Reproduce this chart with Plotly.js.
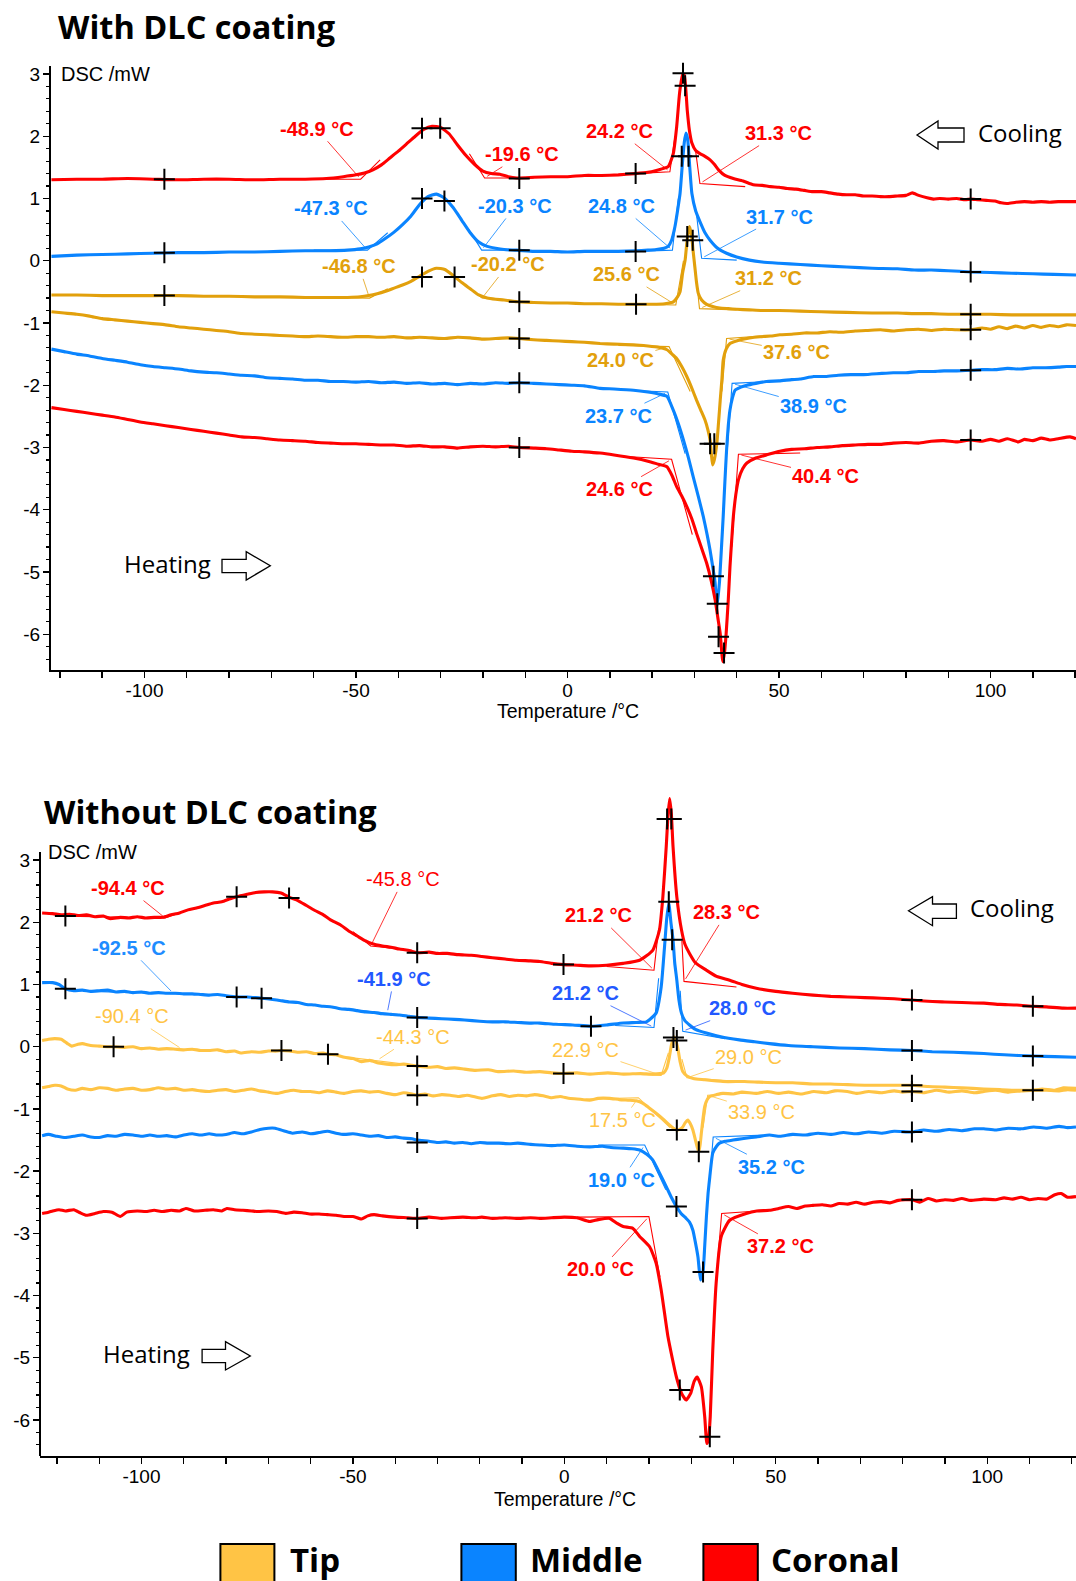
<!DOCTYPE html>
<html><head><meta charset="utf-8">
<script src="https://cdn.plot.ly/plotly-3.0.1.min.js"></script>
<style>html,body{margin:0;padding:0;background:#fff}#chart{width:1076px;height:1581px}</style>
</head><body><div id="chart"></div>
<script>
// ===================== DATA =====================
// Temperature (°C), DSC (mW) pairs
// ---- Top panel: With DLC coating ----
const topCoronalCool = [[-122,1.30],[-116,1.31],[-110,1.31],[-104,1.32],[-98,1.31],[-92,1.30],[-86,1.31],[-80,1.31],[-74,1.30],[-68,1.31],[-62,1.31],[-57,1.32],[-53,1.35],[-50,1.38],[-48,1.41],[-46,1.46],[-44,1.54],[-42,1.65],[-40,1.76],[-38,1.88],[-36,2.00],[-34,2.11],[-32,2.16],[-30,2.14],[-28,2.04],[-26,1.86],[-24,1.69],[-22,1.55],[-20,1.44],[-18,1.40],[-16,1.39],[-14,1.35],[-12,1.33],[-8,1.34],[-4,1.35],[0,1.35],[4,1.37],[8,1.37],[12,1.38],[16,1.40],[19,1.42],[21,1.45],[22.5,1.48],[23.8,1.51],[25.0,1.72],[25.8,2.15],[26.5,2.70],[27.2,2.99],[27.6,2.98],[28.3,2.42],[28.8,2.10],[29.4,1.89],[30.3,1.77],[31.3,1.72],[32.4,1.68],[33.7,1.62],[34.7,1.55],[35.7,1.46],[37.2,1.37],[39.2,1.32],[41.5,1.28],[43.9,1.22],[46,1.21],[48,1.19],[50,1.18],[52,1.16],[54,1.15],[56,1.13],[58,1.11],[60,1.11],[62,1.09],[64,1.07],[66,1.06],[68,1.06],[70,1.04],[72,1.04],[74,1.03],[76,1.03],[78,1.04],[80,1.05],[81.5,1.09],[83,1.05],[85,1.01],[86.5,0.99],[88,1.00],[90,0.99],[92,1.00],[94,0.98],[95.3,0.99],[97,0.98],[99,0.97],[101,0.96],[102.5,0.93],[104,0.92],[106,0.94],[108,0.95],[110,0.94],[112,0.95],[114,0.94],[116,0.95],[118,0.95],[120.2,0.95]];
const topMiddleCool = [[-122,0.07],[-116,0.09],[-110,0.10],[-104,0.11],[-98,0.12],[-92,0.13],[-86,0.13],[-80,0.14],[-74,0.14],[-68,0.15],[-62,0.16],[-56,0.16],[-52,0.17],[-49,0.19],[-47,0.22],[-45,0.27],[-43,0.36],[-41,0.46],[-39,0.58],[-37,0.72],[-35,0.90],[-33,1.03],[-31,1.07],[-29,1.00],[-27,0.85],[-25,0.65],[-23,0.45],[-21,0.30],[-19,0.23],[-17,0.20],[-15,0.18],[-12,0.17],[-8,0.15],[-4,0.15],[0,0.14],[4,0.15],[8,0.15],[12,0.15],[16,0.16],[19,0.17],[21,0.18],[22.8,0.20],[23.8,0.23],[24.6,0.33],[25.4,0.55],[26.0,0.80],[26.6,1.08],[27.2,1.60],[27.6,1.90],[28.0,2.05],[28.4,1.95],[28.9,1.50],[29.4,1.08],[30.3,0.80],[31.3,0.63],[32.5,0.45],[33.7,0.33],[35.5,0.20],[37.6,0.12],[40,0.06],[43,0.01],[46,-0.02],[50,-0.04],[55,-0.06],[60,-0.08],[66,-0.10],[72,-0.12],[78,-0.13],[82,-0.15],[86,-0.15],[90,-0.16],[95.3,-0.18],[100,-0.19],[105,-0.20],[110,-0.21],[115,-0.22],[120.2,-0.23]];
const topTipCool = [[-122,-0.55],[-116,-0.55],[-110,-0.56],[-104,-0.56],[-98,-0.56],[-92,-0.56],[-86,-0.57],[-80,-0.57],[-74,-0.58],[-68,-0.58],[-62,-0.59],[-56,-0.59],[-52,-0.59],[-49,-0.58],[-47,-0.56],[-45,-0.53],[-43,-0.49],[-41,-0.44],[-39,-0.39],[-37,-0.33],[-35,-0.25],[-33,-0.17],[-31,-0.12],[-29,-0.14],[-27,-0.24],[-25,-0.35],[-23,-0.45],[-21,-0.55],[-19,-0.60],[-17,-0.62],[-15,-0.63],[-12,-0.66],[-8,-0.67],[-4,-0.68],[0,-0.68],[4,-0.69],[8,-0.69],[12,-0.70],[16,-0.70],[20,-0.70],[23,-0.69],[25,-0.66],[26,-0.58],[26.6,-0.50],[27.2,-0.20],[27.8,0.01],[28.3,0.35],[28.8,0.55],[29.3,0.42],[29.7,0.15],[30.1,-0.10],[30.5,-0.35],[30.9,-0.52],[31.7,-0.63],[32.9,-0.70],[34.5,-0.74],[36,-0.76],[38,-0.77],[40,-0.78],[43,-0.79],[46,-0.80],[50,-0.80],[55,-0.81],[60,-0.82],[66,-0.83],[72,-0.84],[78,-0.84],[82,-0.85],[86,-0.85],[90,-0.86],[95.3,-0.86],[100,-0.86],[105,-0.87],[110,-0.87],[115,-0.87],[120.2,-0.87]];
const topTipHeat = [[-122,-0.82],[-119,-0.84],[-116,-0.86],[-113,-0.89],[-110,-0.93],[-107,-0.95],[-104,-0.97],[-101,-0.99],[-98,-1.01],[-95,-1.03],[-92,-1.06],[-89,-1.08],[-86,-1.10],[-83,-1.12],[-80,-1.14],[-77,-1.17],[-74,-1.18],[-71,-1.19],[-68,-1.20],[-65,-1.21],[-62,-1.22],[-59,-1.21],[-56,-1.22],[-53,-1.23],[-50,-1.22],[-47,-1.22],[-44,-1.23],[-41,-1.22],[-38,-1.24],[-35,-1.23],[-32,-1.24],[-29,-1.25],[-26,-1.23],[-23,-1.24],[-20,-1.26],[-17,-1.25],[-14,-1.24],[-11.4,-1.25],[-8,-1.27],[-5,-1.28],[-2,-1.29],[1,-1.30],[4,-1.31],[7.7,-1.33],[11,-1.34],[15.6,-1.35],[19,-1.37],[21.5,-1.39],[23.5,-1.43],[24.7,-1.50],[25.8,-1.57],[27,-1.70],[28.2,-1.86],[29.4,-2.05],[30.5,-2.24],[31.5,-2.40],[32.5,-2.56],[33.2,-2.72],[33.7,-2.88],[34.0,-3.10],[34.3,-3.28],[34.7,-3.20],[35.3,-2.93],[35.7,-2.60],[36.1,-2.24],[36.5,-1.90],[36.8,-1.60],[37.5,-1.42],[38.4,-1.33],[39.5,-1.30],[40.8,-1.27],[43,-1.24],[45.5,-1.22],[48,-1.21],[50.2,-1.19],[53,-1.18],[56,-1.16],[59,-1.16],[62,-1.14],[65,-1.15],[68,-1.13],[71,-1.12],[74,-1.11],[77,-1.13],[80,-1.11],[83,-1.10],[86,-1.12],[89,-1.10],[92,-1.11],[95.3,-1.11],[98,-1.08],[100,-1.10],[102,-1.06],[104,-1.09],[106,-1.05],[108,-1.08],[110,-1.04],[112,-1.07],[114,-1.04],[116,-1.06],[118,-1.03],[120.2,-1.04]];
const topMiddleHeat = [[-122,-1.42],[-119,-1.46],[-116,-1.50],[-113,-1.53],[-110,-1.57],[-107,-1.60],[-104,-1.63],[-101,-1.67],[-98,-1.70],[-95,-1.72],[-92,-1.74],[-89,-1.77],[-86,-1.79],[-83,-1.80],[-80,-1.82],[-77,-1.84],[-74,-1.85],[-71,-1.88],[-68,-1.89],[-65,-1.90],[-62,-1.92],[-59,-1.92],[-56,-1.94],[-53,-1.94],[-50,-1.95],[-47,-1.94],[-44,-1.96],[-41,-1.95],[-38,-1.97],[-35,-1.96],[-32,-1.98],[-29,-1.97],[-26,-1.99],[-23,-1.97],[-20,-1.98],[-17,-1.96],[-14,-1.97],[-11.4,-1.96],[-8,-1.97],[-5,-1.98],[-2,-1.99],[1,-2.00],[4,-2.01],[7.7,-2.05],[11,-2.06],[15.6,-2.08],[19,-2.11],[21.5,-2.14],[23.5,-2.18],[25,-2.40],[26.2,-2.62],[27.4,-2.88],[28.6,-3.17],[29.7,-3.47],[30.9,-3.78],[32.1,-4.11],[33.0,-4.40],[33.7,-4.65],[34.4,-4.95],[34.9,-5.18],[35.3,-5.56],[35.9,-5.18],[36.4,-4.60],[36.8,-4.11],[37.2,-3.55],[37.6,-3.04],[38.0,-2.65],[38.4,-2.40],[39.0,-2.20],[39.6,-2.08],[41,-2.03],[42.4,-2.00],[44.5,-1.97],[47,-1.94],[50,-1.93],[53,-1.91],[55,-1.90],[58.2,-1.86],[61,-1.86],[64,-1.84],[67,-1.83],[70,-1.83],[74.3,-1.81],[77,-1.80],[80,-1.80],[83,-1.78],[86,-1.78],[89,-1.77],[92,-1.77],[95.3,-1.76],[98,-1.75],[101,-1.75],[104,-1.73],[107,-1.74],[110,-1.72],[113,-1.72],[116,-1.71],[118,-1.70],[120.2,-1.70]];
const topCoronalHeat = [[-122,-2.36],[-119,-2.39],[-116,-2.42],[-113,-2.45],[-110,-2.48],[-107,-2.51],[-104,-2.55],[-101,-2.59],[-98,-2.62],[-95,-2.65],[-92,-2.68],[-89,-2.71],[-86,-2.74],[-83,-2.77],[-80,-2.80],[-77,-2.83],[-74,-2.84],[-71,-2.86],[-68,-2.88],[-65,-2.89],[-62,-2.90],[-59,-2.92],[-56,-2.93],[-53,-2.94],[-50,-2.94],[-47,-2.95],[-44,-2.96],[-41,-2.96],[-38,-2.98],[-35,-2.97],[-32,-2.99],[-29,-2.99],[-26,-3.01],[-23,-2.99],[-20,-2.98],[-17,-2.99],[-14,-2.98],[-11.4,-3.00],[-8,-3.01],[-5,-3.02],[-2,-3.04],[1,-3.06],[4,-3.07],[7.7,-3.09],[11,-3.12],[15.6,-3.17],[19,-3.22],[21.5,-3.27],[23.5,-3.31],[24.7,-3.45],[25.8,-3.63],[27,-3.78],[28.2,-3.95],[29.4,-4.15],[30.5,-4.38],[31.7,-4.62],[32.9,-4.86],[34.0,-5.15],[34.9,-5.45],[35.5,-5.72],[36.1,-5.99],[36.7,-6.44],[37.1,-6.30],[37.5,-5.99],[38.0,-5.45],[38.4,-4.92],[38.8,-4.50],[39.2,-4.11],[39.8,-3.75],[40.4,-3.52],[41.4,-3.34],[42.4,-3.25],[44.5,-3.17],[47,-3.12],[50.2,-3.06],[53,-3.03],[56,-3.02],[59,-3.00],[62,-2.99],[65,-2.97],[68,-2.96],[71,-2.95],[74,-2.95],[77,-2.93],[80,-2.92],[83,-2.93],[86,-2.90],[89,-2.89],[92,-2.91],[95.3,-2.88],[98,-2.90],[100,-2.87],[102,-2.90],[104,-2.86],[106.6,-2.91],[108,-2.87],[110,-2.89],[112,-2.85],[114,-2.88],[116,-2.86],[118.8,-2.83],[120.2,-2.86]];

// ---- Bottom panel: Without DLC coating ----
const botCoronalCool = [[-123.5,2.15],[-121,2.14],[-119,2.12],[-117,2.13],[-115,2.11],[-113,2.12],[-111,2.09],[-109,2.10],[-107.5,2.06],[-105,2.08],[-103,2.07],[-101,2.09],[-99,2.07],[-97,2.08],[-95,2.08],[-93,2.12],[-91,2.15],[-89,2.20],[-87,2.23],[-85,2.27],[-83,2.31],[-81,2.33],[-79,2.38],[-77.5,2.41],[-75,2.45],[-73,2.48],[-71,2.49],[-69,2.49],[-67,2.47],[-65,2.40],[-63,2.35],[-61,2.27],[-59,2.19],[-57,2.12],[-55.3,2.04],[-53,1.96],[-51,1.86],[-49,1.78],[-47,1.70],[-45.6,1.66],[-43,1.62],[-41,1.60],[-39,1.57],[-37,1.55],[-34.8,1.51],[-32,1.52],[-30,1.50],[-27.7,1.50],[-25,1.48],[-22,1.47],[-19.5,1.45],[-17,1.43],[-14,1.41],[-11.4,1.39],[-8,1.38],[-5.8,1.37],[-3,1.34],[-0.2,1.32],[3,1.31],[6,1.30],[10,1.31],[13.9,1.34],[17.8,1.39],[20.9,1.55],[22.5,1.88],[23.3,2.41],[24.1,3.22],[24.5,3.70],[24.9,3.99],[25.3,3.75],[25.7,3.22],[26.6,2.41],[27.7,1.88],[28.5,1.65],[29.6,1.50],[31,1.35],[33.6,1.23],[36,1.13],[39.1,1.07],[42,1.00],[45.4,0.94],[50,0.89],[54,0.86],[58.8,0.83],[63,0.81],[67,0.80],[71,0.79],[75,0.78],[78,0.77],[82.2,0.75],[86,0.73],[90,0.72],[94,0.71],[99.2,0.70],[103,0.68],[107,0.67],[110.8,0.65],[114,0.64],[118,0.62],[121,0.62]];
const botMiddleCool = [[-123.5,1.03],[-121,1.03],[-119.5,1.00],[-118,0.93],[-116,0.90],[-114,0.91],[-112,0.89],[-110,0.90],[-108,0.91],[-106,0.88],[-104,0.89],[-102,0.87],[-100,0.88],[-98,0.86],[-96,0.87],[-94,0.86],[-92,0.86],[-90,0.85],[-88,0.85],[-86,0.84],[-84,0.83],[-82,0.84],[-80,0.82],[-77.5,0.80],[-75,0.80],[-73,0.79],[-71.6,0.78],[-69,0.76],[-67,0.74],[-65,0.72],[-63,0.71],[-61,0.68],[-59,0.67],[-57,0.65],[-55,0.64],[-53,0.61],[-51,0.60],[-49,0.58],[-47,0.56],[-45,0.55],[-43,0.53],[-41,0.52],[-39,0.51],[-37,0.49],[-34.8,0.47],[-32,0.46],[-29,0.45],[-26,0.44],[-23.6,0.43],[-20,0.41],[-17,0.40],[-14,0.40],[-11,0.39],[-8,0.38],[-5.8,0.38],[-2,0.36],[2,0.35],[6.3,0.33],[10,0.35],[13.9,0.38],[17,0.39],[19.4,0.40],[21.7,0.54],[22.9,0.96],[23.7,1.61],[24.2,2.05],[24.7,2.31],[25.2,2.00],[25.7,1.72],[26.1,1.35],[26.6,1.07],[27.1,0.75],[27.7,0.54],[28.5,0.42],[29.6,0.35],[31,0.28],[33.6,0.22],[37,0.16],[41.4,0.11],[45,0.08],[48.5,0.05],[53,0.02],[58.8,0.00],[65,-0.02],[71,-0.03],[77,-0.05],[82.2,-0.06],[87,-0.08],[92,-0.09],[99.2,-0.11],[104,-0.13],[110.8,-0.15],[116,-0.16],[121,-0.17]];
const botTipCool = [[-123.5,0.10],[-122,0.12],[-120.5,0.13],[-119,0.12],[-117.5,0.05],[-116.5,0.01],[-115,0.04],[-114,0.05],[-112,0.02],[-110,0.01],[-108,0.00],[-106.6,0.00],[-104,-0.01],[-102,0.00],[-100,-0.03],[-98,-0.02],[-96,-0.04],[-94,-0.03],[-92,-0.04],[-90,-0.05],[-88,-0.04],[-86,-0.06],[-84,-0.06],[-82,-0.05],[-80,-0.08],[-78,-0.07],[-76.5,-0.10],[-74,-0.08],[-72,-0.09],[-70,-0.07],[-68,-0.07],[-66.9,-0.06],[-65,-0.07],[-63,-0.09],[-61,-0.08],[-59,-0.11],[-57,-0.10],[-55.9,-0.12],[-54,-0.13],[-52,-0.17],[-50,-0.19],[-48,-0.24],[-46,-0.22],[-44,-0.26],[-42,-0.28],[-40,-0.29],[-38,-0.28],[-36,-0.30],[-34.8,-0.31],[-32,-0.33],[-30,-0.32],[-28,-0.35],[-26,-0.34],[-23.6,-0.36],[-21,-0.38],[-18,-0.37],[-15.5,-0.40],[-12,-0.39],[-9,-0.41],[-5.8,-0.40],[-3,-0.42],[-0.2,-0.43],[3,-0.42],[6,-0.44],[10.3,-0.42],[14,-0.44],[18,-0.43],[21,-0.44],[23.5,-0.42],[24.2,-0.35],[24.8,-0.18],[25.3,0.02],[25.9,0.16],[26.4,0.10],[26.9,-0.05],[27.4,-0.25],[28.0,-0.40],[29,-0.47],[30.5,-0.51],[33,-0.53],[37.5,-0.56],[42.6,-0.56],[46,-0.57],[50,-0.58],[54,-0.58],[58.8,-0.60],[63,-0.60],[67,-0.61],[71,-0.62],[75,-0.62],[78,-0.62],[82.2,-0.62],[86,-0.64],[90,-0.65],[94,-0.66],[99.2,-0.68],[103,-0.69],[107,-0.70],[110.8,-0.70],[114,-0.70],[117,-0.71],[119,-0.69],[121,-0.70]];
const botTipHeat = [[-123.5,-0.66],[-122,-0.64],[-120.5,-0.62],[-119,-0.63],[-117.5,-0.68],[-115.6,-0.70],[-114,-0.67],[-112,-0.69],[-110,-0.66],[-108,-0.67],[-106,-0.70],[-104,-0.68],[-102,-0.67],[-100,-0.70],[-98,-0.69],[-96,-0.66],[-94,-0.68],[-92,-0.67],[-90,-0.70],[-88,-0.69],[-86,-0.71],[-84,-0.72],[-82,-0.70],[-80,-0.69],[-78,-0.72],[-76,-0.70],[-74,-0.68],[-72,-0.71],[-70,-0.73],[-68,-0.75],[-66,-0.72],[-64,-0.70],[-62,-0.72],[-60,-0.72],[-58,-0.74],[-56,-0.71],[-54,-0.73],[-52,-0.75],[-50,-0.72],[-48,-0.71],[-46,-0.73],[-44,-0.72],[-42,-0.75],[-40,-0.77],[-38,-0.74],[-36,-0.76],[-34.8,-0.78],[-33,-0.76],[-31,-0.79],[-29,-0.77],[-27,-0.78],[-25,-0.80],[-23,-0.78],[-21,-0.81],[-19.5,-0.83],[-17,-0.79],[-15,-0.77],[-13,-0.80],[-11,-0.78],[-9,-0.79],[-7,-0.77],[-5,-0.79],[-3,-0.82],[-1,-0.80],[1,-0.83],[3,-0.84],[6,-0.86],[8,-0.83],[10.7,-0.83],[13,-0.85],[15.4,-0.86],[17,-0.87],[18.6,-0.91],[20,-0.98],[21.7,-1.07],[23.3,-1.16],[24.9,-1.26],[25.8,-1.31],[26.6,-1.34],[27.3,-1.33],[28,-1.29],[28.6,-1.22],[29.2,-1.18],[29.8,-1.24],[30.4,-1.34],[31,-1.50],[31.4,-1.61],[31.8,-1.69],[32.1,-1.58],[32.4,-1.39],[32.8,-1.15],[33.2,-0.96],[33.8,-0.85],[34.4,-0.80],[36,-0.77],[37.5,-0.75],[40,-0.76],[42,-0.73],[45.4,-0.75],[48,-0.72],[50.7,-0.75],[53,-0.73],[56,-0.76],[59,-0.72],[62,-0.74],[64,-0.71],[66.9,-0.72],[69,-0.75],[72,-0.72],[75,-0.74],[78,-0.71],[80,-0.73],[82.2,-0.72],[85,-0.74],[88,-0.70],[91,-0.73],[94,-0.71],[97,-0.74],[99.2,-0.72],[102,-0.70],[105,-0.73],[108,-0.71],[110.8,-0.70],[113,-0.68],[116,-0.70],[118,-0.66],[121,-0.67]];
const botMiddleHeat = [[-123.5,-1.43],[-122,-1.41],[-120,-1.44],[-118,-1.46],[-116,-1.44],[-114,-1.42],[-112,-1.45],[-110,-1.46],[-108,-1.43],[-106,-1.44],[-104,-1.41],[-102,-1.42],[-100,-1.44],[-98,-1.42],[-96,-1.44],[-94,-1.43],[-92,-1.45],[-90,-1.42],[-88,-1.40],[-86,-1.42],[-84,-1.40],[-82,-1.42],[-80,-1.41],[-78,-1.38],[-76,-1.40],[-74,-1.37],[-72,-1.33],[-70,-1.31],[-68.4,-1.31],[-66,-1.36],[-64.3,-1.39],[-62,-1.37],[-60,-1.40],[-58,-1.38],[-56,-1.36],[-54,-1.39],[-52,-1.41],[-50,-1.40],[-48,-1.42],[-46,-1.44],[-44,-1.43],[-42,-1.46],[-40,-1.45],[-38,-1.47],[-36,-1.48],[-34.8,-1.50],[-32,-1.52],[-30,-1.54],[-28,-1.53],[-26,-1.55],[-24,-1.54],[-22,-1.56],[-20,-1.54],[-18,-1.55],[-15.5,-1.55],[-13,-1.56],[-11,-1.55],[-8,-1.57],[-5.8,-1.58],[-3,-1.59],[0,-1.58],[3,-1.60],[6,-1.61],[9,-1.60],[11,-1.62],[13.9,-1.63],[16,-1.64],[17.8,-1.66],[19.5,-1.73],[20.9,-1.82],[22.5,-2.03],[24.1,-2.25],[25.3,-2.42],[26.5,-2.57],[27.6,-2.68],[28.8,-2.76],[29.6,-2.82],[30.4,-2.95],[31.0,-3.15],[31.6,-3.38],[32.2,-3.75],[32.8,-3.62],[33.2,-3.20],[33.6,-2.73],[34.0,-2.35],[34.4,-2.09],[35.1,-1.71],[36,-1.60],[36.7,-1.55],[38,-1.52],[39.9,-1.50],[42,-1.48],[45.4,-1.45],[48.5,-1.42],[51,-1.44],[54,-1.41],[57,-1.42],[60,-1.39],[63,-1.41],[66,-1.38],[69,-1.40],[72,-1.37],[75,-1.39],[78,-1.36],[82.2,-1.37],[85,-1.34],[88,-1.36],[91,-1.33],[94,-1.35],[97,-1.32],[99.2,-1.32],[102,-1.34],[105,-1.31],[108,-1.32],[111,-1.29],[114,-1.31],[117,-1.28],[119,-1.30],[121,-1.29]];
const botCoronalHeat = [[-123.5,-2.68],[-122,-2.66],[-121,-2.64],[-119.5,-2.62],[-118,-2.64],[-116,-2.62],[-114.5,-2.67],[-113,-2.71],[-111,-2.68],[-109,-2.65],[-107,-2.66],[-105,-2.73],[-103.5,-2.66],[-101,-2.64],[-99,-2.65],[-97,-2.63],[-95,-2.65],[-93,-2.63],[-91,-2.64],[-89.5,-2.60],[-87.5,-2.64],[-85,-2.63],[-83,-2.62],[-81,-2.64],[-79.8,-2.60],[-78,-2.62],[-76,-2.63],[-74,-2.64],[-72.4,-2.65],[-70,-2.64],[-68,-2.65],[-65.9,-2.68],[-64,-2.66],[-62,-2.67],[-60.2,-2.69],[-58,-2.69],[-56,-2.70],[-54,-2.71],[-52.1,-2.73],[-50,-2.73],[-48,-2.77],[-46.5,-2.72],[-45,-2.70],[-43,-2.72],[-40,-2.74],[-37,-2.75],[-34.8,-2.76],[-32,-2.74],[-29,-2.76],[-27,-2.75],[-24,-2.74],[-21,-2.75],[-19.5,-2.74],[-17,-2.76],[-14,-2.75],[-11.4,-2.76],[-8,-2.75],[-5.8,-2.76],[-3,-2.75],[0,-2.74],[3,-2.75],[6,-2.81],[8,-2.78],[10.7,-2.76],[12.5,-2.84],[13.9,-2.89],[16.2,-2.92],[17.8,-3.05],[20.2,-3.22],[21.7,-3.48],[22.9,-3.91],[24.5,-4.66],[25.5,-5.00],[26.5,-5.31],[27.7,-5.57],[28.8,-5.68],[29.9,-5.57],[30.7,-5.38],[31.4,-5.31],[32.4,-5.47],[33.2,-5.95],[33.7,-6.38],[34.1,-6.30],[34.5,-5.95],[35.1,-4.88],[35.9,-3.80],[37.1,-3.05],[39.1,-2.79],[43,-2.68],[45.5,-2.64],[48.5,-2.63],[50.7,-2.60],[53,-2.57],[55,-2.60],[57,-2.56],[58.8,-2.55],[61,-2.54],[63,-2.56],[65,-2.52],[67,-2.53],[69,-2.50],[71,-2.53],[73,-2.50],[75,-2.49],[77,-2.51],[79,-2.47],[82.2,-2.46],[84,-2.50],[86,-2.44],[88,-2.48],[90,-2.46],[92,-2.47],[94,-2.44],[96,-2.47],[99.2,-2.45],[102,-2.46],[104,-2.43],[106,-2.45],[108,-2.42],[110,-2.46],[112,-2.44],[114,-2.45],[116,-2.38],[117.5,-2.36],[119,-2.42],[121,-2.41]];

// Evaluation points ("+" marks) [T, DSC]
const topMarks = [[-95.3,1.31],[-34.4,2.13],[-30.1,2.13],[-11.4,1.32],[16.1,1.40],[27.3,3.01],[27.8,2.81],[95.3,0.99],
  [-95.3,0.13],[-34.4,1.00],[-29.1,0.96],[-11.4,0.17],[16.1,0.15],[27.0,1.68],[28.6,1.68],[95.3,-0.18],
  [-95.3,-0.56],[-34.4,-0.26],[-26.7,-0.26],[-11.4,-0.66],[16.2,-0.70],[28.3,0.39],[29.6,0.33],[95.3,-0.86],
  [-11.4,-1.25],[95.3,-1.11],[33.7,-2.94],[34.7,-2.94],[-11.4,-1.96],[95.3,-1.76],[34.5,-5.07],[35.4,-5.51],
  [-11.4,-3.00],[95.3,-2.88],[35.7,-6.04],[37.0,-6.30]];
const botMarks = [[-118,2.10],[-77.5,2.41],[-65.1,2.39],[-34.8,1.51],[-0.2,1.32],[24.3,3.66],[25.3,3.66],[82.2,0.75],[110.8,0.65],
  [-118,0.93],[-77.5,0.80],[-71.6,0.78],[-34.8,0.47],[6.3,0.33],[24.7,2.33],[25.5,1.72],[82.2,-0.06],[110.8,-0.15],
  [-106.6,0.00],[-66.9,-0.06],[-55.9,-0.12],[-34.8,-0.31],[-0.2,-0.43],[25.8,0.15],[26.6,0.10],[82.2,-0.62],[110.8,-0.70],
  [-34.8,-0.78],[82.2,-0.72],[26.6,-1.34],[31.8,-1.69],
  [-34.8,-1.54],[82.2,-1.37],[26.5,-2.57],[32.8,-3.62],
  [-34.8,-2.76],[82.2,-2.46],[27.3,-5.52],[34.4,-6.27]];

// Onset temperatures (label values), DSC level at onset, series of each
const topOnsetT = [-48.9,-19.6,24.2,31.3,-47.3,-20.3,24.8,31.7,-46.8,-20.2,25.6,31.2,24.0,37.6,23.7,38.9,24.6,40.4];
const topOnsetV = [1.31,1.33,1.43,1.24,0.17,0.17,0.17,0.04,-0.60,-0.60,-0.71,-0.77,-1.38,-1.25,-2.11,-1.97,-3.19,-3.11];
const topOnsetSeries = ['Coronal','Coronal','Coronal','Coronal','Middle','Middle','Middle','Middle','Tip','Tip','Tip','Tip','Tip','Tip','Middle','Middle','Coronal','Coronal'];
const botOnsetT = [-94.4,-45.8,21.2,28.3,-92.5,-41.9,21.2,28.0,-90.4,-44.3,22.9,29.0,17.5,33.9,19.0,35.2,20.0,37.2];
const botOnsetV = [2.07,1.62,1.23,1.05,0.86,0.54,0.31,0.25,-0.04,-0.22,-0.46,-0.50,-0.82,-0.78,-1.58,-1.45,-2.73,-2.68];
const botOnsetSeries = ['Coronal','Coronal','Coronal','Coronal','Middle','Middle','Middle','Middle','Tip','Tip','Tip','Tip','Tip','Tip','Middle','Middle','Coronal','Coronal'];

// Tangent constructions: [baseline point, onset point, tangent end]
const topTangents = {
  Coronal: [[[-62,1.31],[-48.9,1.31],[-44.3,1.62]],[[-8,1.33],[-19.6,1.33],[-23.2,1.72]],[[16,1.40],[24.2,1.43],[25.4,2.0]],[[42,1.19],[31.3,1.24],[30.3,1.75]],[[13,-3.14],[24.6,-3.19],[29.5,-4.4]],[[55,-3.09],[40.4,-3.11],[38.8,-4.6]]],
  Middle: [[[-60,0.17],[-47.3,0.17],[-42.5,0.45]],[[-10,0.17],[-20.3,0.17],[-23.3,0.5]],[[16,0.15],[24.8,0.17],[26.2,1.0]],[[40,0.01],[31.7,0.04],[30.4,0.8]],[[14,-2.08],[23.7,-2.11],[27.8,-3.1]],[[53,-1.92],[38.9,-1.97],[37.7,-3.1]]],
  Tip: [[[-58,-0.59],[-46.8,-0.60],[-42.5,-0.45]],[[-12,-0.64],[-20.2,-0.60],[-23.5,-0.42]],[[16,-0.70],[25.6,-0.71],[27.4,0.0]],[[40,-0.79],[31.2,-0.77],[30.0,0.0]],[[12,-1.36],[24.0,-1.38],[29.0,-2.1]],[[48,-1.20],[37.6,-1.25],[36.5,-2.1]]]
};
const botTangents = {
  Coronal: [[[-118,2.10],[-94.4,2.07],[-88,2.22]],[[-36,1.55],[-45.8,1.62],[-50,1.85]],[[10,1.29],[21.2,1.23],[22.3,1.9]],[[40.7,0.96],[28.3,1.05],[27.8,1.7]],[[3,-2.74],[20.0,-2.73],[22.6,-3.7]],[[50,-2.62],[37.2,-2.68],[36.2,-3.5]]],
  Middle: [[[-112,0.89],[-92.5,0.86],[-86,0.84]],[[-30,0.45],[-41.9,0.54],[-48,0.58]],[[12,0.34],[21.2,0.31],[22.3,1.1]],[[38,0.13],[28.0,0.25],[27.4,0.9]],[[8,-1.58],[19.0,-1.58],[24,-2.3]],[[48,-1.42],[35.2,-1.45],[34.3,-2.2]]],
  Tip: [[[-106,0.0],[-90.4,-0.04],[-84,-0.06]],[[-34,-0.31],[-44.3,-0.22],[-50,-0.18]],[[10,-0.43],[22.9,-0.46],[24.6,-0.1]],[[40,-0.55],[29.0,-0.50],[27.8,-0.2]],[[5,-0.84],[17.5,-0.82],[25,-1.30]],[[45,-0.74],[33.9,-0.78],[32.8,-1.3]]]
};

const seriesNames = ['Tip','Middle','Coronal'];
const xTickVals = [-100,-50,0,50,100];
const xTickText = ['-100','-50','0','50','100'];
const yTickVals = [-6,-5,-4,-3,-2,-1,0,1,2,3];
const yTickText = ['-6','-5','-4','-3','-2','-1','0','1','2','3'];

// ===================== LAYOUT / STYLE =====================
const W = 1076, H = 1581;
const px = x => x / W, py = y => 1 - y / H;
const topColor = {Tip:'#E2A00C', Middle:'#0A84FF', Coronal:'#FF0000'};
const botColor = {Tip:'#FFC445', Middle:'#0A84FF', Coronal:'#FF0000'};
const LBL = 'Liberation Sans, Arial, sans-serif';
const SEGOE = 'Open Sans, Noto Sans, sans-serif';

// label positions (layout), [T, DSC] of text centre
const topLabelPos = [[-59.3,2.12],[-10.7,1.71],[12.2,2.08],[49.9,2.05],[-56.0,0.84],[-12.3,0.88],[12.7,0.88],[50.1,0.71],[-49.3,-0.09],[-14.0,-0.06],[13.9,-0.22],[47.5,-0.28],[12.5,-1.60],[54.2,-1.47],[12.0,-2.49],[58.2,-2.34],[12.2,-3.67],[61.1,-3.46]];
const botLabelPos = [[-103.2,2.55],[-38.1,2.69],[8.1,2.11],[38.4,2.16],[-103.0,1.59],[-40.3,1.09],[5.0,0.86],[42.2,0.62],[-102.3,0.49],[-35.8,0.16],[5.0,-0.05],[43.6,-0.16],[13.8,-1.18],[46.7,-1.05],[13.6,-2.14],[48.9,-1.93],[8.6,-3.58],[51.0,-3.21]];
const botLabelBold = [true,false,true,true,true,true,true,true,false,false,false,false,false,false,true,true,true,true];
const botLabelColorOverride = {4:'#1E8CFF',5:'#2258FF',6:'#2258FF',7:'#2258FF'};

const curvesTop = [
  {s:'Coronal', d:topCoronalCool},{s:'Middle', d:topMiddleCool},{s:'Tip', d:topTipCool},
  {s:'Tip', d:topTipHeat},{s:'Middle', d:topMiddleHeat},{s:'Coronal', d:topCoronalHeat}];
const curvesBot = [
  {s:'Coronal', d:botCoronalCool},{s:'Middle', d:botMiddleCool},{s:'Tip', d:botTipCool},
  {s:'Tip', d:botTipHeat},{s:'Middle', d:botMiddleHeat},{s:'Coronal', d:botCoronalHeat}];

const traces = [];
function addPanel(curves, tangents, marks, colors, xa, ya) {
  seriesNames.forEach(s => {
    const xs = [], ys = [];
    tangents[s].forEach(seg => { seg.forEach(p => { xs.push(p[0]); ys.push(p[1]); }); xs.push(null); ys.push(null); });
    traces.push({x:xs, y:ys, xaxis:xa, yaxis:ya, mode:'lines', line:{color:colors[s], width:1.1}, hoverinfo:'skip', showlegend:false});
  });
  curves.forEach(c => {
    traces.push({x:c.d.map(p=>p[0]), y:c.d.map(p=>p[1]), xaxis:xa, yaxis:ya, mode:'lines',
      line:{color:colors[c.s], width:3.1, shape:'spline', smoothing:0.5}, showlegend:false, hoverinfo:'skip'});
  });
  traces.push({x:marks.map(p=>p[0]), y:marks.map(p=>p[1]), xaxis:xa, yaxis:ya, mode:'markers',
    marker:{symbol:'cross-thin', size:15, color:'#000', line:{width:2, color:'#000'}}, showlegend:false, hoverinfo:'skip', cliponaxis:false});
}
addPanel(curvesTop, topTangents, topMarks, topColor, 'x', 'y');
addPanel(curvesBot, botTangents, botMarks, botColor, 'x2', 'y2');

const annotations = [];
function addLabels(onT, onV, ser, pos, colors, xr, yr, boldArr, override) {
  onT.forEach((t, i) => {
    const col = (override && override[i]) || colors[ser[i]];
    const txt = t.toFixed(1) + ' °C';
    const bold = boldArr ? boldArr[i] : true;
    annotations.push({x:t, y:onV[i], xref:xr, yref:yr, ax:pos[i][0], ay:pos[i][1], axref:xr, ayref:yr,
      text: bold ? '<b>'+txt+'</b>' : txt, showarrow:true, arrowhead:0, arrowwidth:0.8, arrowcolor:col,
      standoff:3, font:{family:LBL, size:20, color:col}});
  });
}
addLabels(topOnsetT, topOnsetV, topOnsetSeries, topLabelPos, topColor, 'x', 'y', null, null);
addLabels(botOnsetT, botOnsetV, botOnsetSeries, botLabelPos, botColor, 'x2', 'y2', botLabelBold, botLabelColorOverride);

function txt(x, y, text, size, family, xanchor) {
  annotations.push({xref:'paper', yref:'paper', x:px(x), y:py(y), text, showarrow:false,
    xanchor: xanchor || 'center', yanchor:'middle', font:{family, size, color:'#000'}});
}
txt(56, 26, '<b>With DLC coating</b>', 32.5, SEGOE, 'left');
txt(42, 811, '<b>Without DLC coating</b>', 32.5, SEGOE, 'left');
txt(59, 74, 'DSC /mW', 20, LBL, 'left');
txt(46, 852, 'DSC /mW', 20, LBL, 'left');
txt(568, 711, 'Temperature /°C', 19.5, LBL);
txt(565, 1499, 'Temperature /°C', 19.5, LBL);
txt(167, 563, 'Heating', 24, SEGOE);
txt(146, 1353, 'Heating', 24, SEGOE);
txt(1020, 132, 'Cooling', 24, SEGOE);
txt(1012, 907, 'Cooling', 24, SEGOE);
txt(288, 1559, '<b>Tip</b>', 33, SEGOE, 'left');
txt(528, 1559, '<b>Middle</b>', 33, SEGOE, 'left');
txt(769, 1559, '<b>Coronal</b>', 33, SEGOE, 'left');

// shapes: outline arrows, legend swatches, bottom y axis line
function poly(pts) { return 'M ' + pts.map(p => px(p[0]) + ',' + py(p[1])).join(' L ') + ' Z'; }
const shapes = [];
function leftArrow(tipX, tipY, baseX, headT, headB, shT, shB, endX) {
  shapes.push({type:'path', xref:'paper', yref:'paper', path: poly([[tipX,tipY],[baseX,headT],[baseX,shT],[endX,shT],[endX,shB],[baseX,shB],[baseX,headB]]),
    line:{color:'#000', width:1.3}, fillcolor:'#fff'});
}
function rightArrow(startX, shT, shB, baseX, headT, headB, tipX, tipY) {
  shapes.push({type:'path', xref:'paper', yref:'paper', path: poly([[startX,shT],[baseX,shT],[baseX,headT],[tipX,tipY],[baseX,headB],[baseX,shB],[startX,shB]]),
    line:{color:'#000', width:1.3}, fillcolor:'#fff'});
}
leftArrow(917,135,938,121,149,128,142,964);
leftArrow(908.5,910.7,932.5,896.7,925.7,904,918.3,956.4);
rightArrow(222,559.3,572.7,246.2,551.7,580,270.3,565.7);
rightArrow(202.1,1349.3,1362.7,225.5,1341.7,1370,250.3,1356);
[[220.4,274.4,botColor.Tip],[461.4,515.8,botColor.Middle],[703.4,757.8,botColor.Coronal]].forEach(r => {
  shapes.push({type:'rect', xref:'paper', yref:'paper', x0:px(r[0]), x1:px(r[1]), y0:py(1544), y1:py(1600),
    line:{color:'#000', width:2}, fillcolor:r[2]});
});
shapes.push({type:'line', xref:'paper', yref:'y2', x0:px(40), x1:px(40), y0:-6.58, y1:3.13, line:{color:'#000', width:2}});

const minorY = [];
for (let k = -32; k <= 15; k++) { if (k % 5 !== 0) minorY.push(k / 5); }

function xAxis(domain, range, anchor) {
  return {domain, range, anchor, showline:true, linecolor:'#000', linewidth:2, ticks:'outside', ticklen:6, tickwidth:1.4,
    tickcolor:'#000', tickmode:'array', tickvals:xTickVals, ticktext:xTickText, showgrid:false, zeroline:false,
    ticklabelstandoff:-4, tickfont:{family:LBL, size:19, color:'#000'},
    minor:{tickmode:'linear', tick0:0, dtick:10, ticks:'outside', ticklen:6, tickwidth:1.4, tickcolor:'#000', showgrid:false}};
}
function yAxis(domain, range, anchor, showline) {
  return {domain, range, anchor, showline, linecolor:'#000', linewidth:2, ticks:'outside', ticklen:6, tickwidth:1.4,
    tickcolor:'#000', tickmode:'array', tickvals:yTickVals, ticktext:yTickText, showgrid:false, zeroline:false,
    ticklabelstandoff:-1, tickfont:{family:LBL, size:19, color:'#000'},
    minor:{tickmode:'array', tickvals:minorY, ticks:'outside', ticklen:3, tickwidth:1.2, tickcolor:'#000', showgrid:false}};
}

const layout = {
  width:W, height:H, margin:{l:0, r:0, t:0, b:0}, paper_bgcolor:'#fff', plot_bgcolor:'rgba(0,0,0,0)', showlegend:false,
  xaxis: xAxis([px(51), 1], [-122.1, 120.2], 'y'),
  yaxis: yAxis([py(670), py(65.9)], [-6.575, 3.13], 'x', true),
  xaxis2: xAxis([px(40), 1], [-124.0, 121.0], 'y2'),
  yaxis2: yAxis([py(1456), py(794.8)], [-6.58, 4.05], 'x2', false),
  annotations, shapes
};
Plotly.newPlot('chart', traces, layout, {displayModeBar:false, staticPlot:true});
</script></body></html>
